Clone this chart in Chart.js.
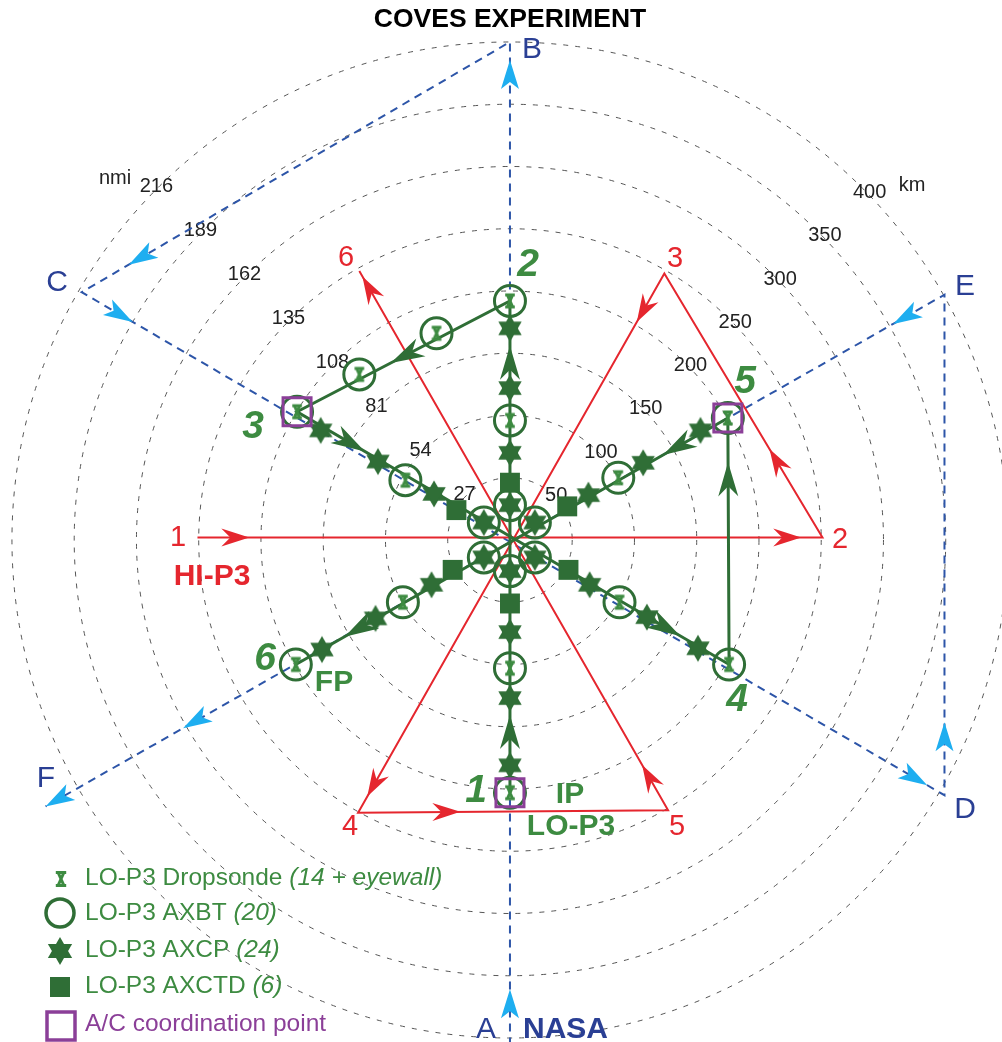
<!DOCTYPE html>
<html>
<head>
<meta charset="utf-8">
<script src="https://cdn.jsdelivr.net/npm/chart.js@4.4.0/dist/chart.umd.min.js"></script>
<style>
html, body { margin: 0; padding: 0; background: #fff; }
#wrap { position: relative; width: 1002px; height: 1042px; }
</style>
</head>
<body>
<div id="wrap"><canvas id="chart" width="1002" height="1042"></canvas></div>
<script>
// range rings (km) and the matching nautical-mile labels
const ringKm = [50, 100, 150, 200, 250, 300, 350, 400];
const ringNmi = [27, 54, 81, 108, 135, 162, 189, 216];

// track vertices, x/y in km from storm centre (east, north)
const nasaTrack = [[0, -406], [0, 400], [-344, 199], [349, -205], [349, 197], [-373, -214]];
const nasaNames = ['A', 'B', 'C', 'D', 'E', 'F'];
const hiTrack = [[-251, 2], [251, 2], [124, 214], [-122, -219], [127, -217], [-121, 216]];
const hiNames = ['1', '2', '3', '4', '5', '6'];
const loTrack = [[0, -203], [0, 192], [-171, 103], [176, -100], [175, 98], [-172, -100]];
const loNames = ['1', '2', '3', '4', '5', '6'];

// arrows: [segment index, position of tip along segment]
const nasaArrows = [[0, 0.056], [0, 0.982], [1, 0.89], [2, 0.059], [2, 0.98], [3, 0.146], [4, 0.057], [4, 0.847], [4, 1.0]];
const hiArrows = [[0, 0.083], [0, 0.966], [1, 0.335], [2, 0.09], [2, 0.97], [3, 0.33], [4, 0.084], [4, 0.99]];
const loArrows = [[0, 0.158], [0, 0.909], [1, 0.56], [2, 0.157], [2, 0.887], [3, 0.82], [4, 0.15], [4, 0.887]];

// expendables dropped by the LO-P3 (km)
const sondePts = [[0, 96], [0, -103], [0, 192], [0, -203], [-84, 48], [-171, 103], [88, -50], [176, -100],
  [87, 50], [175, 98], [-86, -50], [-172, -100], [-59, 166], [-121, 133]];
const axbtPts = [[0, 28], [0, -25], [-21, 14], [20, -14], [20, 14], [-21, -14],
  [0, 96], [0, -103], [0, 192], [0, -203], [-84, 48], [-171, 103], [88, -50], [176, -100],
  [87, 50], [175, 98], [-86, -50], [-172, -100], [-59, 166], [-121, 133]];
const axcpPts = [[0, 28], [0, -25], [-21, 14], [20, -14], [20, 14], [-21, -14],
  [0, 70], [0, 122], [0, 170], [0, -74], [0, -127], [0, -181],
  [-61, 37], [-106, 63], [-152, 88], [64, -36], [110, -62], [151, -87],
  [63, 36], [107, 62], [153, 88], [-63, -36], [-108, -63], [-151, -88]];
const axctdPts = [[0, 46], [0, -51], [-43, 24], [47, -24], [46, 27], [-46, -24]];
const coordPts = [[0, -203], [-171, 103], [175, 98]];

const legendRows = [
  ['LO-P3 Dropsonde ', '(14 + eyewall)'],
  ['LO-P3 AXBT ', '(20)'],
  ['LO-P3 AXCP ', '(24)'],
  ['LO-P3 AXCTD ', '(6)'],
  ['A/C coordination point', '']
];

const DKGREEN = '#2f6e36';
const GREEN = '#3d8b41';
const RED = '#e5262e';
const BLUE = '#2d55a8';
const NAVY = '#2a3f94';
const CYAN = '#1eaef0';
const PURPLE = '#8b3f98';
const FONT = '"Liberation Sans", Arial, sans-serif';

function drawStar(g, x, y, R, color) {
  g.fillStyle = color;
  const c = Math.cos(Math.PI / 6);
  [1, -1].forEach(s => {
    g.beginPath();
    g.moveTo(x, y - s * R);
    g.lineTo(x + R * c, y + s * R / 2);
    g.lineTo(x - R * c, y + s * R / 2);
    g.closePath();
    g.fill();
  });
}

function drawSonde(g, x, y, s, color) {
  g.save();
  g.strokeStyle = color;
  g.lineWidth = 3;
  g.beginPath();
  g.moveTo(x - 0.8 * s, y - s); g.lineTo(x + 0.8 * s, y - s);
  g.moveTo(x - 0.8 * s, y + s); g.lineTo(x + 0.8 * s, y + s);
  g.moveTo(x - 0.45 * s, y - s); g.lineTo(x + 0.45 * s, y + s);
  g.moveTo(x + 0.45 * s, y - s); g.lineTo(x - 0.45 * s, y + s);
  g.stroke();
  g.restore();
}

function glyph(w, h, fn) {
  const c = document.createElement('canvas');
  c.width = w; c.height = h;
  fn(c.getContext('2d'), w / 2, h / 2);
  return c;
}

const starGlyph = glyph(30, 30, (g, x, y) => drawStar(g, x, y, 13.5, DKGREEN));
const sondeGlyph = glyph(18, 18, (g, x, y) => drawSonde(g, x, y, 6, GREEN));

function arrowHead(ctx, x, y, ang, len, hw, back, color) {
  ctx.save();
  ctx.translate(x, y);
  ctx.rotate(ang);
  ctx.beginPath();
  ctx.moveTo(0, 0);
  ctx.lineTo(-len, -hw);
  ctx.lineTo(-back, 0);
  ctx.lineTo(-len, hw);
  ctx.closePath();
  ctx.fillStyle = color;
  ctx.fill();
  ctx.restore();
}

function drawTrackArrows(chart, track, arrows, spec) {
  const xs = chart.scales.x, ys = chart.scales.y;
  arrows.forEach(([seg, t]) => {
    const a = track[seg], b = track[seg + 1];
    const ax = xs.getPixelForValue(a[0]), ay = ys.getPixelForValue(a[1]);
    const bx = xs.getPixelForValue(b[0]), by = ys.getPixelForValue(b[1]);
    arrowHead(chart.ctx, ax + (bx - ax) * t, ay + (by - ay) * t, Math.atan2(by - ay, bx - ax),
      spec.len, spec.hw, spec.back, spec.color);
  });
}

function text(ctx, s, x, y, font, color, align) {
  ctx.font = font;
  ctx.fillStyle = color;
  ctx.textAlign = align || 'center';
  ctx.textBaseline = 'middle';
  ctx.fillText(s, x, y);
}

const ringPlugin = {
  id: 'rings',
  beforeDatasetsDraw(chart) {
    const ctx = chart.ctx, xs = chart.scales.x, ys = chart.scales.y;
    const cx = xs.getPixelForValue(0), cy = ys.getPixelForValue(0);
    ctx.save();
    ctx.strokeStyle = '#555';
    ctx.lineWidth = 1;
    ctx.setLineDash([5, 7]);
    ringKm.forEach(r => {
      const rp = xs.getPixelForValue(r) - cx;
      ctx.beginPath();
      ctx.arc(cx, cy, rp, 0, Math.PI * 2);
      ctx.stroke();
    });
    ctx.setLineDash([]);
    ringKm.forEach((r, i) => {
      const rp = xs.getPixelForValue(r) - cx + 2;
      const a1 = 44 * Math.PI / 180, a2 = 135 * Math.PI / 180;
      text(ctx, String(r), cx + rp * Math.cos(a1), cy - rp * Math.sin(a1), '20px ' + FONT, '#222');
      text(ctx, String(ringNmi[i]), cx + rp * Math.cos(a2), cy - rp * Math.sin(a2), '20px ' + FONT, '#222');
    });
    text(ctx, 'km', 912, 185, '20px ' + FONT, '#222');
    text(ctx, 'nmi', 115, 178, '20px ' + FONT, '#222');
    ctx.restore();
  }
};

const overlayPlugin = {
  id: 'overlay',
  afterDatasetsDraw(chart) {
    const ctx = chart.ctx;
    drawTrackArrows(chart, nasaTrack, nasaArrows, { len: 29, hw: 9, back: 22, color: CYAN });
    drawTrackArrows(chart, hiTrack, hiArrows, { len: 28, hw: 9, back: 19, color: RED });
    drawTrackArrows(chart, loTrack, loArrows, { len: 34, hw: 10, back: 24, color: DKGREEN });

    // title
    text(ctx, 'COVES EXPERIMENT', 510, 20, 'bold 26.5px ' + FONT, '#000');

    // NASA way points
    const nasaPos = [[486, 1030], [532, 50], [57, 283], [965, 810], [965, 287], [46, 779]];
    nasaNames.forEach((n, i) => text(ctx, n, nasaPos[i][0], nasaPos[i][1], '30px ' + FONT, NAVY));
    text(ctx, 'NASA', 523, 1030, 'bold 30px ' + FONT, NAVY, 'left');

    // HI-P3 way points
    const hiPos = [[178, 538], [840, 540], [675, 259], [350, 827], [677, 827], [346, 258]];
    hiNames.forEach((n, i) => text(ctx, n, hiPos[i][0], hiPos[i][1], '29px ' + FONT, RED));
    text(ctx, 'HI-P3', 212, 577, 'bold 30px ' + FONT, RED);

    // LO-P3 way points
    const loPos = [[476, 791], [528, 265], [253, 427], [737, 700], [745, 382], [265, 659]];
    loNames.forEach((n, i) => text(ctx, n, loPos[i][0], loPos[i][1], 'italic bold 39px ' + FONT, GREEN));
    text(ctx, 'IP', 570, 795, 'bold 30px ' + FONT, GREEN);
    text(ctx, 'LO-P3', 571, 827, 'bold 30px ' + FONT, GREEN);
    text(ctx, 'FP', 334, 683, 'bold 30px ' + FONT, GREEN);

    // legend
    const rowY = [878, 913, 950, 986, 1024];
    drawSonde(ctx, 61, rowY[0] + 1, 6.5, GREEN);
    ctx.save();
    ctx.strokeStyle = DKGREEN; ctx.lineWidth = 3.5;
    ctx.beginPath(); ctx.arc(60, rowY[1], 14, 0, Math.PI * 2); ctx.stroke();
    ctx.restore();
    drawStar(ctx, 60, rowY[2] + 1, 14, DKGREEN);
    ctx.fillStyle = DKGREEN;
    ctx.fillRect(50, rowY[3] - 9, 20, 20);
    ctx.save();
    ctx.strokeStyle = PURPLE; ctx.lineWidth = 3.5;
    ctx.strokeRect(47, rowY[4] - 12, 28, 28);
    ctx.restore();
    legendRows.forEach((row, i) => {
      const color = i === 4 ? PURPLE : GREEN;
      text(ctx, row[0], 85, rowY[i], '24.5px ' + FONT, color, 'left');
      ctx.font = '24.5px ' + FONT;
      const w = ctx.measureText(row[0]).width;
      if (row[1]) text(ctx, row[1], 85 + w, rowY[i], 'italic 24.5px ' + FONT, color, 'left');
    });
  }
};

const toPts = arr => arr.map(p => ({ x: p[0], y: p[1] }));
const track = (data, color, width, dash, order) => ({
  data: toPts(data), showLine: true, borderColor: color, borderWidth: width,
  borderDash: dash, pointRadius: 0, fill: false, tension: 0, clip: false, order: order
});

new Chart(document.getElementById('chart'), {
  type: 'scatter',
  data: {
    datasets: [
      { label: 'A/C coordination point', data: toPts(coordPts), pointStyle: 'rect', pointRadius: 19.8,
        borderColor: PURPLE, borderWidth: 3, backgroundColor: 'rgba(0,0,0,0)', clip: false, order: 1 },
      { label: 'Dropsonde', data: toPts(sondePts), pointStyle: sondeGlyph, pointRadius: 8, clip: false, order: 2 },
      { label: 'AXCP', data: toPts(axcpPts), pointStyle: starGlyph, pointRadius: 12, clip: false, order: 3 },
      { label: 'AXCTD', data: toPts(axctdPts), pointStyle: 'rect', pointRadius: 14.1,
        backgroundColor: DKGREEN, borderWidth: 0, clip: false, order: 4 },
      { label: 'AXBT', data: toPts(axbtPts), pointStyle: 'circle', pointRadius: 15.5,
        borderColor: DKGREEN, borderWidth: 3, backgroundColor: 'rgba(0,0,0,0)', clip: false, order: 5 },
      Object.assign(track(loTrack, DKGREEN, 3, [], 6), { label: 'LO-P3' }),
      Object.assign(track(hiTrack, RED, 2, [], 7), { label: 'HI-P3' }),
      Object.assign(track(nasaTrack, BLUE, 2, [8, 6], 8), { label: 'NASA' })
    ]
  },
  options: {
    responsive: false,
    animation: false,
    devicePixelRatio: 1,
    events: [],
    layout: { padding: 0, autoPadding: false },
    plugins: { legend: { display: false }, tooltip: { enabled: false }, title: { display: false } },
    scales: {
      x: { type: 'linear', display: false, min: -409.6, max: 395.2 },
      y: { type: 'linear', display: false, min: -403.2, max: 433.7 }
    }
  },
  plugins: [ringPlugin, overlayPlugin]
});
</script>
</body>
</html>
